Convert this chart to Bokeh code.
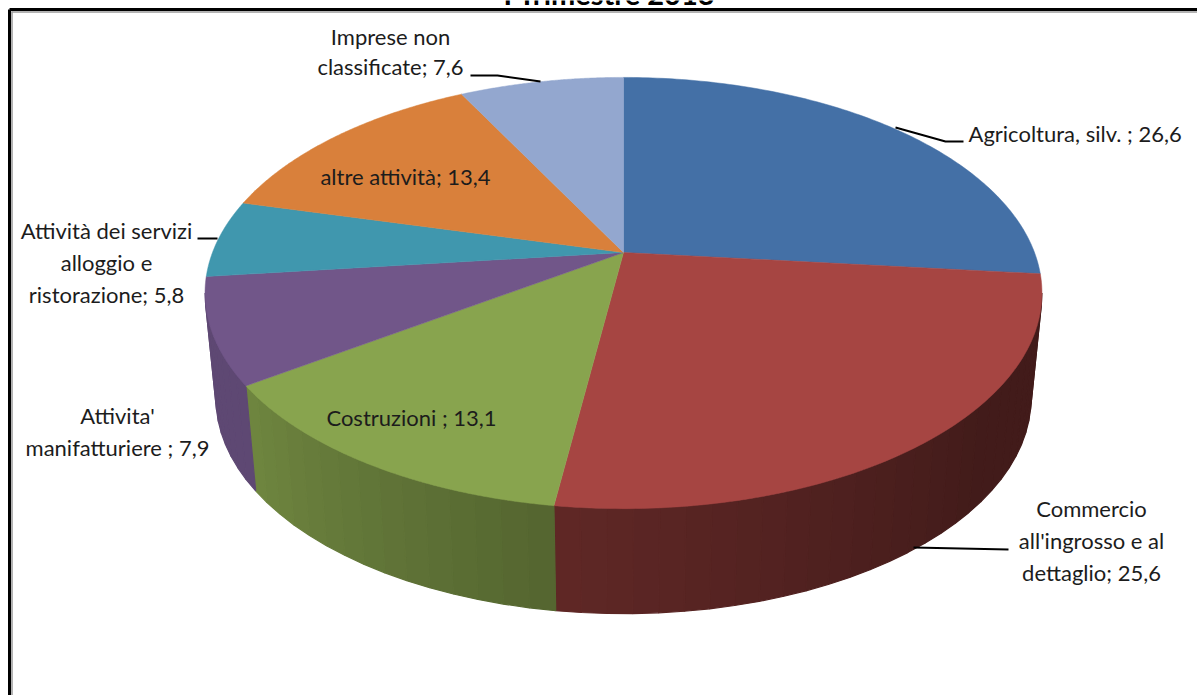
import numpy as np
from bokeh.plotting import figure
from bokeh.models import Range1d
from bokeh.core.properties import value
from bokeh.embed import file_html
from bokeh.resources import INLINE

# --- data -----------------------------------------------------------------
TITLE = "I Trimestre 2013"
CATEGORIES = ["Agricoltura, silv. ", "Commercio all'ingrosso e al dettaglio", "Costruzioni ",
              "Attivita' manifatturiere ", "Attività dei servizi alloggio e ristorazione",
              "altre attività", "Imprese non classificate"]
VALUES = [26.6, 25.6, 13.1, 7.9, 5.8, 13.4, 7.6]
COLORS = ["#4470a6", "#a64542", "#88a44e", "#715689", "#4097ae", "#d9803b", "#93a7cf"]

# --- layout ---------------------------------------------------------------
W, H = 1197, 695
CX, CY = 623, 252
A, B, K = 411, 208, 0.188
DEPTH = 105
SHRINK = 0.974
FONT = "Lato"
SIZE = "22px"
LABEL_LAYOUT = [
    ([968], [133], "left", [None]),
    ([1091, 1091, 1091], [508, 540, 572], "center", ["Commercio ", "all'ingrosso e al ", "dettaglio"]),
    ([411], [417], "center", [None]),
    ([117, 117], [415, 447], "center", ["Attivita' ", "manifatturiere "]),
    ([106, 106, 106], [230, 262, 294], "center", ["Attività dei servizi ", "alloggio e ", "ristorazione"]),
    ([405], [176], "center", [None]),
    ([390, 390], [36, 66], "center", ["Imprese non ", "classificate"]),
]
LEADERS = [
    ([895, 945, 963], [127, 141, 141]),
    ([913, 960, 1008], [547, 548, 549]),
    ([197, 217], [238, 238]),
    ([540, 497, 470], [81, 75, 75]),
]


def project(theta):
    """Clockwise angle from the top of the disc -> perspective position of its rim."""
    xu, yu = np.sin(theta), np.cos(theta)
    d = 1 + K * yu
    return CX + A * xu / d, CY - B * yu / d


def lower(x, y):
    return CX + (x - CX) * SHRINK, y + DEPTH


def shade(hex_color, f):
    r, g, b = (int(hex_color[i:i + 2], 16) for i in (1, 3, 5))
    return "#%02x%02x%02x" % (int(r * f), int(g * f), int(b * f))


p = figure(width=W, height=H, x_range=Range1d(0, W), y_range=Range1d(H, 0),
           output_backend="svg", toolbar_location=None, min_border=0,
           outline_line_color=None, background_fill_color="white", border_fill_color="white",
           margin=(0, 0, 0, 0))
p.axis.visible = False
p.grid.visible = False

fractions = np.array(VALUES) / sum(VALUES)
edges = np.concatenate([[0], np.cumsum(fractions)]) * 2 * np.pi
tangent = np.arccos(K)  # rim points where the disc's outline is vertical

# side wall, as thin vertical strips shaded from the left (lighter) to the right
for i, color in enumerate(COLORS):
    t0, t1 = edges[i], edges[i + 1]
    lo, hi = max(t0, np.pi - tangent), min(t1, np.pi + tangent)
    if hi <= lo:
        continue
    n = max(2, int((hi - lo) / np.radians(3)))
    ts = np.linspace(lo, hi, n + 1)
    xs, ys, fills = [], [], []
    for a, b in zip(ts[:-1], ts[1:]):
        xa, ya = project(a)
        xb, yb = project(b)
        xc, yc = lower(xb, yb)
        xd, yd = lower(xa, ya)
        xs.append([xa, xb, xc, xd])
        ys.append([ya, yb, yc, yd])
        mid = np.degrees((a + b) / 2)
        if i == 1:
            f = 0.40 + 0.18 * np.clip((mid - 130) / 58, 0, 1)
        elif i == 2:
            f = 0.82 - 0.20 * np.clip((235 - mid) / 47, 0, 1)
        else:
            f = 0.84
        fills.append(shade(color, f))
    p.patches(xs, ys, fill_color=fills, line_color=fills, line_width=1.2)

# top face
for i, color in enumerate(COLORS):
    ts = np.linspace(edges[i], edges[i + 1], 120)
    x, y = project(ts)
    p.patch(np.concatenate([[CX], x]), np.concatenate([[CY], y]),
            fill_color=color, line_color=color, line_width=0.5)

# leader lines
for lx, ly in LEADERS:
    p.line(lx, ly, line_color="black", line_width=2)

# frame of the picture
p.line([9, 9], [H, 9], line_color="black", line_width=3)
p.line([9, W], [9, 9], line_color="black", line_width=3)
p.line([11.5, 11.5], [H, 11], line_color="#9a9a9a", line_width=1.5)
p.line([11, W], [11.5, 11.5], line_color="#9a9a9a", line_width=1.5)

# title, cut by the top of the picture
p.text([609], [-7], text=[TITLE], text_align="center", text_baseline="alphabetic",
       text_font=value(FONT), text_font_size="29px", text_font_style="bold", text_color="black")

# data labels
for cat, val, (lx, ly, align, lines) in zip(CATEGORIES, VALUES, LABEL_LAYOUT):
    val_txt = f"{val}".replace(".", ",")
    if lines[0] is None:
        texts = [f"{cat}; {val_txt}"]
    else:
        texts = [l.rstrip() if j < len(lines) - 1 else f"{l}; {val_txt}" for j, l in enumerate(lines)]
    p.text(lx, ly, text=texts, text_align=align, text_baseline="middle",
           text_font=value(FONT), text_font_size=SIZE, text_color="#1c1c1c")

open("out.html", "w").write(file_html(p, INLINE))
